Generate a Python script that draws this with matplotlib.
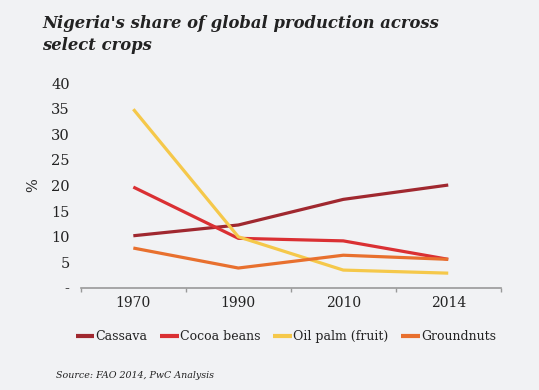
import matplotlib.pyplot as plt
import numpy as np

# Data
years = ["1970", "1990", "2010", "2014"]
cassava = [10.2, 12.3, 17.3, 20.1]
cocoa_beans = [19.7, 9.7, 9.2, 5.6]
oil_palm = [34.9, 10.0, 3.5, 2.9]
groundnuts = [7.8, 3.9, 6.4, 5.6]

y_ticks = [0, 5, 10, 15, 20, 25, 30, 35, 40]
y_tick_labels = ["-", "5", "10", "15", "20", "25", "30", "35", "40"]

series = [
    ("Cassava", cassava, "#A0282F"),
    ("Cocoa beans", cocoa_beans, "#DA3033"),
    ("Oil palm (fruit)", oil_palm, "#F5C84A"),
    ("Groundnuts", groundnuts, "#E8702E"),
]

bg = "#F1F2F4"
serif = ["DejaVu Serif"]

fig = plt.figure(figsize=(5.39, 3.90), dpi=100, facecolor=bg)
ax = fig.add_axes([0.150, 0.2615, 0.779, 0.5255], facecolor=bg)

x = np.arange(len(years))
for name, vals, col in series:
    ax.plot(x, vals, color=col, linewidth=2.3, label=name, solid_capstyle="butt")

ax.set_xlim(-0.5, len(years) - 0.5)
ax.set_ylim(0, 40)
ax.set_yticks(y_ticks)
ax.set_yticklabels(y_tick_labels, fontfamily=serif, fontsize=10.5, color="#222222")
ax.set_xticks(x)
ax.set_xticklabels(years, fontfamily=serif, fontsize=10, color="#222222")
ax.set_xticks(np.arange(-0.5, len(years)), minor=True)
ax.tick_params(axis="y", length=0, pad=8)
ax.tick_params(axis="x", which="major", length=0, pad=6)
ax.tick_params(axis="x", which="minor", length=3, color="#999999", width=1)

for s in ["top", "right", "left"]:
    ax.spines[s].set_visible(False)
ax.spines["bottom"].set_color("#999999")
ax.spines["bottom"].set_linewidth(1.2)

ax.set_ylabel("%", fontfamily=serif, fontsize=10.5, color="#222222", labelpad=8)

fig.text(0.078, 0.912, "Nigeria's share of global production across\nselect crops",
         fontfamily=serif, fontsize=11.8, fontweight="bold", fontstyle="italic",
         color="#222222", va="center", ha="left", linespacing=1.35)

leg = fig.legend(loc="center", bbox_to_anchor=(0.53, 0.137), ncol=4, frameon=False,
                 prop={"family": serif, "size": 9}, handlelength=1.5,
                 handletextpad=0.1, columnspacing=1.0)
for t in leg.get_texts():
    t.set_color("#222222")
for h in leg.legend_handles:
    h.set_linewidth(3)

fig.text(0.104, 0.036, "Source: FAO 2014, PwC Analysis", fontfamily=serif,
         fontsize=6.8, fontstyle="italic", color="#222222", va="center")

plt.savefig("out.png", dpi=100, facecolor=bg)
plt.close()
